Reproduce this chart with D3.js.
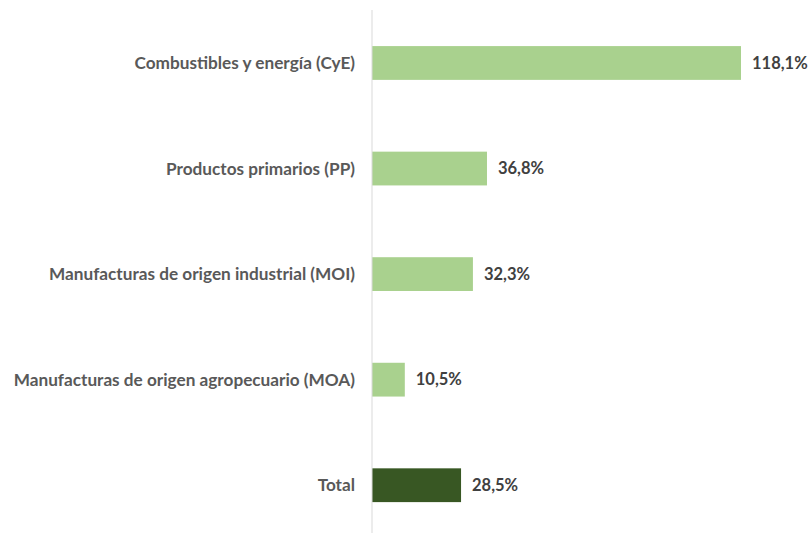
<!DOCTYPE html>
<html>
<head>
<meta charset="utf-8">
<script src="https://cdn.jsdelivr.net/npm/d3@7"></script>
<style>
  body { margin: 0; background: #fff; }
  text { font-family: Lato, "Open Sans", sans-serif; font-weight: bold; }
</style>
</head>
<body>
<svg id="chart"></svg>
<script>
// categories and values (percent)
var categories = [
  "Combustibles y energía (CyE)",
  "Productos primarios (PP)",
  "Manufacturas de origen industrial (MOI)",
  "Manufacturas de origen agropecuario (MOA)",
  "Total"
];
var values = [118.1, 36.8, 32.3, 10.5, 28.5];
var valueLabels = ["118,1%", "36,8%", "32,3%", "10,5%", "28,5%"];

var width = 809, height = 533;
var x0 = 372;

var data = categories.map(function(c, i) {
  return { cat: c, value: values[i], label: valueLabels[i] };
});

var svg = d3.select("#chart")
  .attr("width", width)
  .attr("height", height);

var xScale = d3.scaleLinear().domain([0, 118.1]).range([x0, 741]);
var yScale = d3.scaleBand().domain(categories).range([10.2, 538]).paddingInner(0.68).paddingOuter(0.34);

// bars
svg.append("g").selectAll("rect").data(data).enter().append("rect")
  .attr("x", xScale(0))
  .attr("y", function(d) { return yScale(d.cat); })
  .attr("width", function(d) { return xScale(d.value) - xScale(0); })
  .attr("height", yScale.bandwidth())
  .attr("fill", function(d) { return d.cat == "Total" ? "#385723" : "#a9d18e"; });

// vertical axis line
svg.append("line")
  .attr("x1", x0).attr("x2", x0)
  .attr("y1", 10).attr("y2", height)
  .attr("stroke", "#d9d9d9")
  .attr("stroke-width", 1);

// category labels
svg.append("g").selectAll("text").data(data).enter().append("text")
  .attr("x", x0 - 17)
  .attr("y", function(d) { return yScale(d.cat) + yScale.bandwidth() / 2; })
  .attr("dy", "0.35em")
  .attr("text-anchor", "end")
  .attr("fill", "#595959")
  .style("font-size", "17.2px")
  .text(function(d) { return d.cat; });

// value labels
svg.append("g").selectAll("text").data(data).enter().append("text")
  .attr("x", function(d) { return xScale(d.value) + 11; })
  .attr("y", function(d) { return yScale(d.cat) + yScale.bandwidth() / 2; })
  .attr("dy", "0.35em")
  .attr("fill", "#404040")
  .style("font-size", "16.5px")
  .text(function(d) { return d.label; });
</script>
</body>
</html>
